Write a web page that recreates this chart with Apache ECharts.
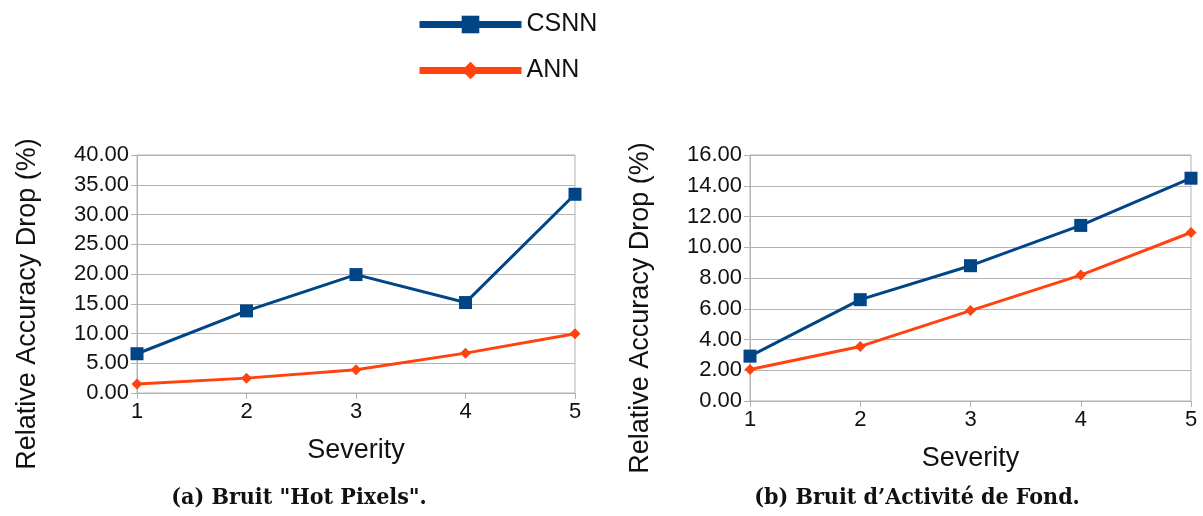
<!DOCTYPE html>
<html><head><meta charset="utf-8">
<script src="https://cdn.jsdelivr.net/npm/echarts@6/dist/echarts.min.js"></script>
<style>html,body{margin:0;padding:0;background:#fff}#c{width:1203px;height:516px}</style>
</head><body><div id="c"></div>
<script>
const severity = ['1','2','3','4','5'];
const hotCSNN = [6.6, 13.8, 19.9, 15.2, 33.4];
const hotANN = [1.5, 2.5, 3.9, 6.7, 9.95];
const bgCSNN = [2.92, 6.59, 8.8, 11.42, 14.49];
const bgANN = [2.05, 3.55, 5.88, 8.19, 10.96];
const seriesNames = ['CSNN', 'ANN'];
const captions = ['(a) Bruit "Hot Pixels".', '(b) Bruit d\u2019Activit\u00e9 de Fond.'];
const yTitle = 'Relative Accuracy Drop (%)';
const xTitle = 'Severity';

const blue = '#004586', orange = '#ff420e';
const font = 'Liberation Sans';
const chart = echarts.init(document.getElementById('c'));

function xAxis(i){
  return {gridIndex:i, type:'category', data:severity, boundaryGap:false,
    name:xTitle, nameLocation:'middle', nameGap:44,
    nameTextStyle:{fontFamily:font, fontSize:27, color:'#111'},
    axisLine:{lineStyle:{color:'#b3b3b3'}},
    axisTick:{show:true, length:6, lineStyle:{color:'#b3b3b3'}},
    axisLabel:{fontFamily:font, fontSize:22, color:'#111', margin:8},
    splitLine:{show:false}};
}
function yAxis(i, max, interval){
  return {gridIndex:i, type:'value', min:0, max:max, interval:interval,
    name:yTitle, nameLocation:'middle', nameGap:96,
    nameTextStyle:{fontFamily:font, fontSize:27, color:'#111', padding:[0,60,0,0]},
    axisLine:{show:true, lineStyle:{color:'#b3b3b3'}},
    axisTick:{show:true, length:6, lineStyle:{color:'#b3b3b3'}},
    axisLabel:{fontFamily:font, fontSize:22, color:'#111', margin:8,
      formatter: v => v.toFixed(2)},
    splitLine:{show:true, lineStyle:{color:'#b3b3b3', width:1}}};
}
function ser(name, data, i, color, sym, size){
  return {name:name, type:'line', xAxisIndex:i, yAxisIndex:i, data:data,
    symbol:sym, symbolSize:size, showSymbol:true,
    lineStyle:{color:color, width:3}, itemStyle:{color:color},
    emphasis:{disabled:true}, animation:false};
}

chart.setOption({
  animation:false,
  legend:{orient:'vertical', left:411, top:7, itemWidth:102, itemHeight:22, itemGap:21,
    textStyle:{fontFamily:font, fontSize:25, color:'#111'},
    lineStyle:{width:7},
    data:['CSNN', 'ANN']},
  title:[
    {text:captions[0], left:294, top:482, textAlign:'center',
      textStyle:{fontFamily:'DejaVu Serif Condensed', fontWeight:'bold', fontSize:23, color:'#111'}},
    {text:captions[1], left:912, top:482, textAlign:'center',
      textStyle:{fontFamily:'DejaVu Serif Condensed', fontWeight:'bold', fontSize:23, color:'#111'}}
  ],
  grid:[
    {left:137, top:155, width:438, height:238, show:true, borderColor:'#b3b3b3', borderWidth:1},
    {left:750, top:155, width:441, height:246, show:true, borderColor:'#b3b3b3', borderWidth:1}
  ],
  xAxis:[xAxis(0), xAxis(1)],
  yAxis:[yAxis(0, 40, 5), yAxis(1, 16, 2)],
  series:[
    ser(seriesNames[0], hotCSNN, 0, blue, 'rect', 13),
    ser(seriesNames[1], hotANN, 0, orange, 'diamond', 11),
    ser(seriesNames[0], bgCSNN, 1, blue, 'rect', 13),
    ser(seriesNames[1], bgANN, 1, orange, 'diamond', 11)
  ]
});
</script></body></html>
